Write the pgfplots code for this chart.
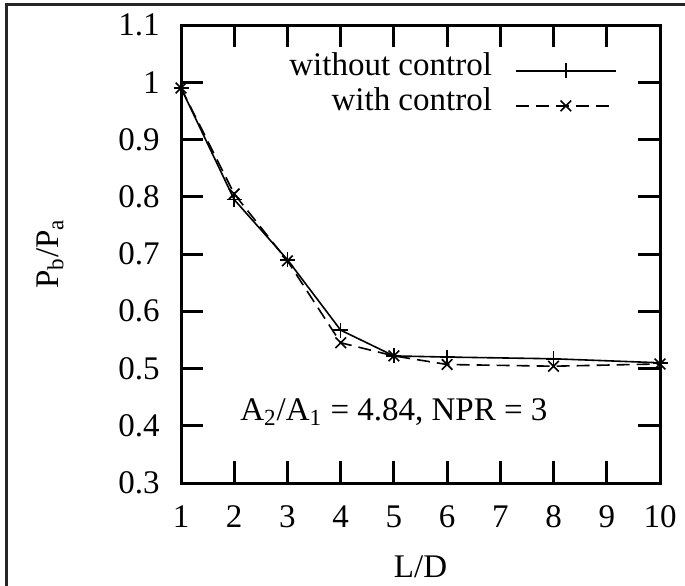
\documentclass[border=0pt]{standalone}
\usepackage{pgfplots}
\pgfplotsset{compat=1.18}
\usepackage{fontspec}
\setmainfont{Liberation Serif}
\begin{document}
\begin{tikzpicture}
\begin{axis}[
  scale only axis, width=239.5pt, height=229pt,
  xmin=1, xmax=10, ymin=0.3, ymax=1.1,
  xtick={1,2,3,4,5,6,7,8,9,10},
  ytick={0.3,0.4,0.5,0.6,0.7,0.8,0.9,1,1.1},
  font=\fontsize{16.5}{19.8}\selectfont,
  /pgf/number format/assume math mode=true,
  axis line style={line width=1.5pt},
  tick style={line width=1.5pt, black},
  major tick length=11pt,
  tick align=inside,
  clip=false,
  yticklabel style={inner sep=0pt, xshift=-10.5pt, anchor=east},
  xticklabel style={inner sep=0pt, yshift=-11pt, anchor=north},
  xlabel={L/D}, ylabel={P\textsubscript{b}/P\textsubscript{a}},
  xlabel style={at={(axis description cs:0.5,-0.183)}, anchor=center, inner sep=0pt},
  ylabel style={at={(axis description cs:-0.2735,0.5)}, anchor=center},
  legend style={at={(axis description cs:0.9102,0.9389)}, anchor=north east, draw=none, fill=none, inner sep=0pt, row sep=0pt, column sep=11.5pt, nodes={inner sep=0pt, text height=11pt, text depth=6.5pt}},
  legend plot pos=right, legend cell align=right,
  legend image code/.code={\draw[mark repeat=2, mark phase=2, #1] plot coordinates {(0pt,0pt) (25pt,0pt) (50pt,0pt)};},
]
\addplot[black, line width=0.8pt, mark=+, mark size=3.75pt] coordinates {(1,0.99)(2,0.795)(3,0.69)(4,0.567)(5,0.522)(6,0.52)(8,0.517)(10,0.51)};
\addlegendentry{without control}
\addplot[black, line width=0.8pt, dash pattern=on 6.5pt off 3.5pt, mark=x, mark size=3.75pt, mark options={solid}] coordinates {(1,0.99)(2,0.805)(3,0.688)(4,0.545)(5,0.522)(6,0.507)(8,0.504)(10,0.508)};
\addlegendentry{with control}
\node[anchor=base] at (axis cs:5,0.41) {A\textsubscript{2}/A\textsubscript{1} = 4.84, NPR = 3};
\coordinate (bbSW) at (rel axis cs:-0.3779,-0.2227);
\coordinate (bbNE) at (rel axis cs:1.0522,1.0546);
\draw[line width=1.5pt, black!85] (rel axis cs:-0.3633,-0.4) -- (rel axis cs:-0.3633,1.0437) -- (rel axis cs:1.2,1.0437);
\end{axis}
\pgfresetboundingbox
\useasboundingbox (bbSW) rectangle (bbNE);
\end{tikzpicture}
\end{document}
